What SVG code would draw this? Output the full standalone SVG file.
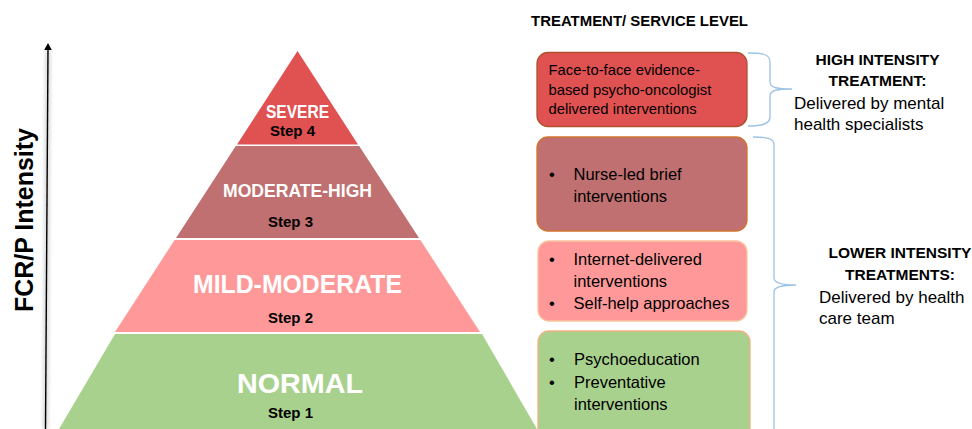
<svg xmlns="http://www.w3.org/2000/svg" width="972" height="429" viewBox="0 0 972 429">
<defs>
<style>
.t{font-family:"Liberation Sans",Arial,sans-serif;}
.b{font-weight:bold;}
.w{fill:#ffffff;font-weight:bold;}
.k{fill:#000000;}
.box{stroke-width:1.3;}
.br{fill:none;stroke:#9DC3E6;stroke-width:1.3;}
</style>
<filter id="sh" x="-200%" y="-5%" width="500%" height="110%"><feGaussianBlur stdDeviation="2"/></filter>
</defs>
<rect width="972" height="429" fill="#ffffff"/>

<g id="axis">
<line x1="45.5" y1="429" x2="48" y2="50" stroke="#999" stroke-width="4" opacity="0.5" filter="url(#sh)"/>
<line x1="45.5" y1="429" x2="48" y2="49" stroke="#000" stroke-width="1.4"/>
<polygon points="48,43 44.2,50 51.8,50" fill="#000"/>
<text class="t b k" font-size="26.5" text-anchor="middle" textLength="184" lengthAdjust="spacingAndGlyphs" transform="translate(33,220) rotate(-90)">FCR/P Intensity</text>
</g>

<g id="step4">
<polygon points="297.5,51 358,144.5 237,144.5" fill="#E05252"/>
<text class="t w" x="297.5" y="117.5" font-size="17.5" text-anchor="middle" textLength="63" lengthAdjust="spacingAndGlyphs">SEVERE</text>
<text class="t b k" x="292.5" y="135.5" font-size="15" text-anchor="middle">Step 4</text>
</g>

<g id="step3">
<polygon points="235.8,146 359.2,146 419,238 176,238" fill="#C07070"/>
<text class="t w" x="297.5" y="197" font-size="19" text-anchor="middle" textLength="149" lengthAdjust="spacingAndGlyphs">MODERATE-HIGH</text>
<text class="t b k" x="290.5" y="227" font-size="15" text-anchor="middle">Step 3</text>
</g>

<g id="step2">
<polygon points="174.6,240 420.4,240 480,332 115,332" fill="#FF9999"/>
<text class="t w" x="297.5" y="293" font-size="25.5" text-anchor="middle" textLength="209" lengthAdjust="spacingAndGlyphs">MILD-MODERATE</text>
<text class="t b k" x="290.5" y="323" font-size="15" text-anchor="middle">Step 2</text>
</g>

<g id="step1">
<polygon points="115,334 482,334 537,429 59,429" fill="#A9D18E"/>
<text class="t w" x="300" y="393" font-size="28.5" text-anchor="middle" textLength="126" lengthAdjust="spacingAndGlyphs">NORMAL</text>
<text class="t b k" x="290.5" y="418" font-size="15" text-anchor="middle">Step 1</text>
</g>

<g id="header">
<text class="t b k" x="531" y="26" font-size="15" textLength="217" lengthAdjust="spacingAndGlyphs">TREATMENT/ SERVICE LEVEL</text>
</g>

<g id="box-high">
<rect class="box" x="537" y="52.5" width="210" height="74" rx="11" fill="#E05252" stroke="#B0502E"/>
<text class="t k" font-size="14.8"><tspan x="548.5" y="75">Face-to-face evidence-</tspan><tspan x="548.5" y="94.5">based psycho-oncologist</tspan><tspan x="548.5" y="113.5">delivered interventions</tspan></text>
</g>

<g id="box-nurse">
<rect class="box" x="537" y="137" width="210" height="94" rx="11" fill="#C07070" stroke="#D0742F"/>
<text class="t k" font-size="16.5"><tspan x="549" y="180">•</tspan><tspan x="573.5" y="180">Nurse-led brief</tspan><tspan x="573.5" y="202">interventions</tspan></text>
</g>

<g id="box-internet">
<rect class="box" x="538" y="241" width="209" height="80" rx="11" fill="#FF9999" stroke="#F8C3A0"/>
<text class="t k" font-size="16.5"><tspan x="549" y="265">•</tspan><tspan x="573.5" y="265">Internet-delivered</tspan><tspan x="573.5" y="287">interventions</tspan><tspan x="549" y="309">•</tspan><tspan x="573.5" y="309">Self-help approaches</tspan></text>
</g>

<g id="box-psycho">
<rect class="box" x="538" y="331" width="212" height="110" rx="11" fill="#A9D18E" stroke="#F4B183"/>
<text class="t k" font-size="16.5"><tspan x="549" y="365">•</tspan><tspan x="574" y="365">Psychoeducation</tspan><tspan x="549" y="387.5">•</tspan><tspan x="574" y="387.5">Preventative</tspan><tspan x="574" y="409.5">interventions</tspan></text>
</g>

<g id="connectors">
<path class="br" d="M748,53 C762,53 770,54 770,62 L770,82 C770,88 778,89 792,89 C778,89 770,90 770,96 L770,117 C770,124 762,126 748,126"/>
<path class="br" d="M753,137 C766,137 774,138 774,145 L774,278 C774,283 782,285 796,285 C782,285 774,287 774,292 L774,435"/>
</g>

<g id="label-high">
<text class="t b k" x="877.5" y="64.5" font-size="15.5" text-anchor="middle">HIGH INTENSITY</text>
<text class="t b k" x="877.5" y="86" font-size="15.5" text-anchor="middle">TREATMENT:</text>
<text class="t k" font-size="17"><tspan x="794" y="109">Delivered by mental</tspan><tspan x="794" y="130">health specialists</tspan></text>
</g>

<g id="label-lower">
<text class="t b k" x="900" y="258" font-size="15.5" text-anchor="middle">LOWER INTENSITY</text>
<text class="t b k" x="900" y="280" font-size="15.5" text-anchor="middle">TREATMENTS:</text>
<text class="t k" font-size="17"><tspan x="819" y="303">Delivered by health</tspan><tspan x="819" y="324">care team</tspan></text>
</g>
</svg>
